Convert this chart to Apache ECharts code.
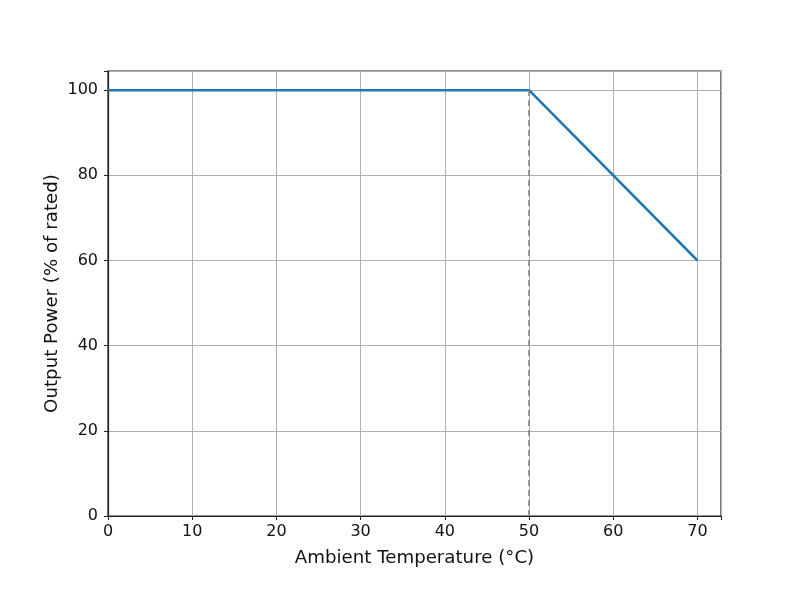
<!DOCTYPE html>
<html>
<head>
<meta charset="utf-8">
<script src="https://cdn.jsdelivr.net/npm/echarts@6/dist/echarts.min.js"></script>
<style>
  html, body { margin: 0; padding: 0; background: #fff; }
  #chart { width: 800px; height: 600px; }
</style>
</head>
<body>
<div id="chart"></div>
<script>
// 資料
const temps = [0, 50, 70];
const power = [100, 100, 60];
const derateStart = 50;
const xTicks = [0, 10, 20, 30, 40, 50, 60, 70];
const yTicks = [0, 20, 40, 60, 80, 100];

const chart = echarts.init(document.getElementById('chart'));
const font = 'DejaVu Sans';

const option = {
  animation: false,
  grid: { left: 108, right: 79, top: 71, bottom: 84, show: true, borderColor: '#222', borderWidth: 1.2 },
  xAxis: {
    type: 'value',
    min: 0,
    max: 72.8,
    interval: 10,
    name: 'Ambient Temperature (°C)',
    nameLocation: 'middle',
    nameGap: 33,
    nameMoveOverlap: false,
    nameTextStyle: { fontFamily: font, fontSize: 18.2, color: '#111' },
    axisLine: { show: true, lineStyle: { color: '#222', width: 1.2 } },
    axisTick: { show: true, length: 4, lineStyle: { color: '#222', width: 1 } },
    axisLabel: {
      fontFamily: font, fontSize: 16, color: '#111', margin: 8,
      customValues: xTicks
    },
    splitLine: { show: true, lineStyle: { color: '#b0b0b0', width: 1 } }
  },
  yAxis: {
    type: 'value',
    min: 0,
    max: 104.5,
    interval: 20,
    name: 'Output Power (% of rated)',
    nameLocation: 'middle',
    nameGap: 47,
    nameMoveOverlap: false,
    nameTextStyle: { fontFamily: font, fontSize: 18.2, color: '#111' },
    axisLine: { show: true, lineStyle: { color: '#222', width: 1.2 } },
    axisTick: { show: true, length: 4, lineStyle: { color: '#222', width: 1 } },
    axisLabel: {
      fontFamily: font, fontSize: 16, color: '#111', margin: 10,
      customValues: yTicks
    },
    splitLine: { show: true, lineStyle: { color: '#b0b0b0', width: 1 } }
  },
  series: [
    {
      type: 'line',
      data: temps.map((t, i) => [t, power[i]]),
      showSymbol: false,
      lineStyle: { color: '#1f77b4', width: 2.5 },
      z: 3,
      markLine: {
        silent: true,
        symbol: ['none', 'none'],
        label: { show: false },
        lineStyle: { color: '#808080', type: [6, 4], width: 1.5 },
        data: [[{ coord: [derateStart, 0] }, { coord: [derateStart, 100] }]]
      }
    }
  ]
};

chart.setOption(option);
</script>
</body>
</html>
